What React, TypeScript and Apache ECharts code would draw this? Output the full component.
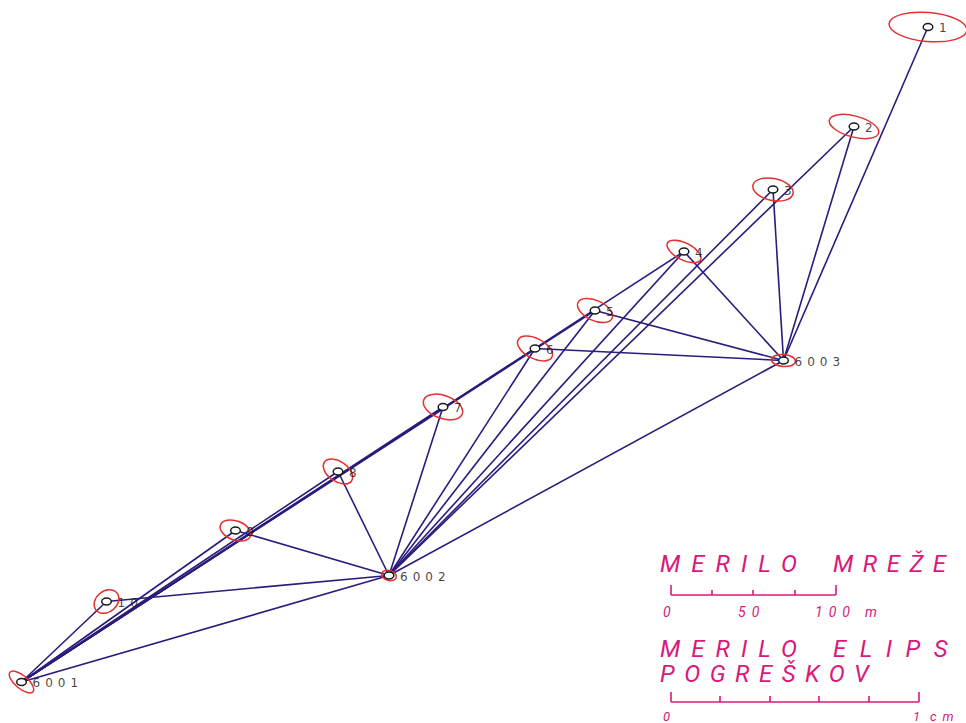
import React, { useEffect, useRef } from "react";
import * as echarts from "echarts";

const WIDTH = 966;
const HEIGHT = 723;

const pointNames = ["1", "2", "3", "4", "5", "6", "7", "8", "9", "10", "6001", "6002", "6003"];
const pointX = [928, 854, 773, 684, 595, 535, 443, 338, 235.5, 106.5, 21.5, 389, 783.5];
const pointY = [27, 126.5, 189.5, 251.5, 310.5, 348.5, 407, 471.5, 530.5, 601.5, 682, 575.5, 360.5];

const ellipseRx = [39, 25.5, 20.5, 18.6, 18.8, 19, 20.5, 16.5, 16, 13.5, 15, 7.5, 12];
const ellipseRy = [14.5, 10.5, 11, 8.5, 10, 10, 11.5, 10, 9.5, 10.5, 6.5, 5, 6];
const ellipseDeg = [5, 15, 12, 27, 25, 27, 20, 35, 20, -40, 40, 15, 5];

const edges: [string, string][] = [
  ["1", "6003"], ["2", "6003"], ["3", "6003"], ["4", "6003"], ["5", "6003"], ["6", "6003"],
  ["2", "6002"], ["3", "6002"], ["4", "6002"], ["5", "6002"], ["6", "6002"], ["7", "6002"],
  ["8", "6002"], ["9", "6002"], ["10", "6002"], ["6003", "6002"], ["6001", "6002"],
  ["10", "6001"], ["9", "6001"], ["8", "6001"], ["7", "6001"], ["6", "6001"], ["5", "6001"], ["4", "6001"],
];

const networkScale = {
  axis: [[671, 595], [836, 595]],
  ticks: [[671, 585], [712, 590], [753, 590], [795, 590], [836, 585]],
};
const errorScale = {
  axis: [[671, 702], [919, 702]],
  ticks: [[671, 692], [720, 696], [770, 696], [819, 696], [869, 696], [919, 692]],
};

const titleTexts = [
  { text: "MERILO", x: 660, y: 564, spacing: 11 },
  { text: "MREŽE", x: 833, y: 564, spacing: 9.5 },
  { text: "MERILO", x: 660, y: 649, spacing: 11 },
  { text: "ELIPS", x: 833, y: 649, spacing: 13.5 },
  { text: "POGREŠKOV", x: 660, y: 674, spacing: 9.5 },
];
const scaleTexts = [
  { text: "0", x: 663, y: 612, size: 14 },
  { text: "50", x: 738, y: 612, size: 14 },
  { text: "100", x: 815, y: 612, size: 14 },
  { text: "m", x: 865, y: 612, size: 14 },
  { text: "0", x: 663, y: 716, size: 13 },
  { text: "1", x: 913, y: 716, size: 13 },
  { text: "cm", x: 930, y: 716, size: 13 },
];

const LINE = "#2b1c7c";
const RED = "#e3312f";
const PINK = "#d9187c";

export default function App() {
  const ref = useRef<HTMLDivElement>(null);
  useEffect(() => {
    document.body.style.margin = "0";
    const chart = echarts.init(ref.current!, undefined, { renderer: "svg" });
    const at = (name: string) => {
      const i = pointNames.indexOf(name);
      return [pointX[i], pointY[i]];
    };
    const edgeSeries = edges.map(([a, b]) => ({
      type: "line",
      data: [at(a), at(b)],
      symbol: "none",
      silent: true,
      lineStyle: { color: LINE, width: 1.6 },
      z: 2,
    }));
    const scaleSeries = [networkScale, errorScale].flatMap((s) => {
      const base = s.axis[0][1];
      return [
        { type: "line", data: s.axis, symbol: "none", silent: true, lineStyle: { color: PINK, width: 1.6 }, z: 2 },
        ...s.ticks.map((t) => ({
          type: "line",
          data: [[t[0], base], t],
          symbol: "none",
          silent: true,
          lineStyle: { color: PINK, width: 1.6 },
          z: 2,
        })),
      ];
    });
    const nodes = pointNames.map((n, i) => [pointX[i], pointY[i], ellipseRx[i], ellipseRy[i], ellipseDeg[i], n]);
    const textStyle = (text: string, size: number) => ({
      text,
      fill: PINK,
      fontFamily: "Roboto",
      fontStyle: "italic",
      fontWeight: 400,
      fontSize: size,
      verticalAlign: "middle",
      align: "left",
    });
    chart.setOption({
      animation: false,
      tooltip: { show: false },
      grid: { left: 0, right: 0, top: 0, bottom: 0 },
      xAxis: { type: "value", min: 0, max: WIDTH, show: false },
      yAxis: { type: "value", min: 0, max: HEIGHT, inverse: true, show: false },
      graphic: [
        ...titleTexts.map((t) => ({ type: "text", x: t.x, y: t.y, silent: true, style: textStyle(t.text, 24) })),
        ...scaleTexts.map((t) => ({ type: "text", x: t.x, y: t.y, silent: true, style: textStyle(t.text, t.size) })),
      ],
      series: [
        ...edgeSeries,
        ...scaleSeries,
        {
          type: "custom",
          coordinateSystem: "cartesian2d",
          clip: false,
          silent: true,
          z: 3,
          data: nodes,
          renderItem: (_: any, api: any) => {
            const c = api.coord([api.value(0), api.value(1)]);
            return {
              type: "group",
              children: [
                {
                  type: "ellipse",
                  x: c[0],
                  y: c[1],
                  rotation: (-api.value(4) * Math.PI) / 180,
                  shape: { cx: 0, cy: 0, rx: api.value(2), ry: api.value(3) },
                  style: { fill: "none", stroke: RED, lineWidth: 1.5 },
                },
                {
                  type: "ellipse",
                  shape: { cx: c[0], cy: c[1], rx: 4.8, ry: 3.5 },
                  style: { fill: "#ffffff", stroke: "#1a1a1a", lineWidth: 1.5 },
                },
              ],
            };
          },
        },
        {
          type: "scatter",
          symbolSize: 0,
          silent: true,
          z: 4,
          data: nodes.map((n) => ({ name: n[5], value: [n[0], n[1]] })),
          label: {
            show: true,
            position: "right",
            distance: 11,
            offset: [0, 1],
            formatter: "{b}",
            color: "#111111",
            fontFamily: "DejaVu Sans",
            fontSize: 12,
          },
        },
      ],
    });
    // The reference is lettered with wide CAD spacing, which ECharts' text style cannot express.
    ref.current!.querySelectorAll("text").forEach((el) => {
      const s = el.textContent || "";
      const title = titleTexts.find((t) => t.text === s);
      let spacing = 0;
      if (title) spacing = title.spacing;
      else if (pointNames.includes(s)) spacing = s.length > 1 ? 5 : 0;
      else if (scaleTexts.some((t) => t.text === s)) spacing = 6;
      if (spacing) el.setAttribute("letter-spacing", String(spacing));
    });
    return () => chart.dispose();
  }, []);
  return <div ref={ref} style={{ width: WIDTH, height: HEIGHT }} />;
}
